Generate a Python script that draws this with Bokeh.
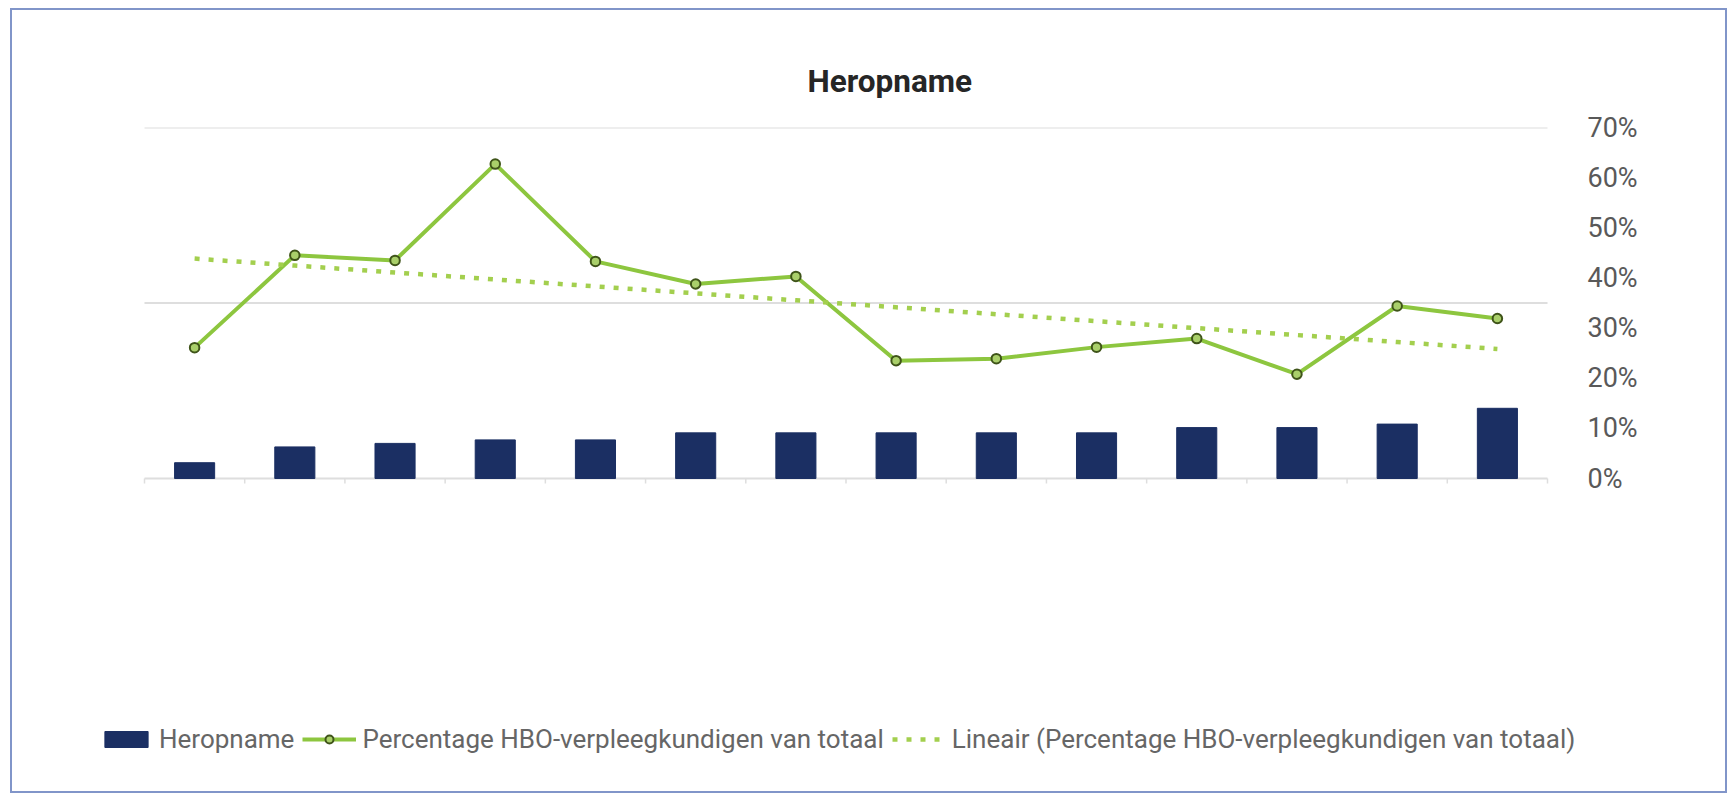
import numpy as np
from bokeh.plotting import figure
from bokeh.models import Range1d, FixedTicker, Legend, LegendItem
from bokeh.embed import file_html
from bokeh.resources import INLINE

# ---- data ----
periode = list(range(1, 15))
heropname = [0.9, 1.8, 2.0, 2.2, 2.2, 2.6, 2.6, 2.6, 2.6, 2.6, 2.9, 2.9, 3.1, 4.0]
pct_hbo = [0.261, 0.445, 0.435, 0.627, 0.433, 0.388, 0.403, 0.235, 0.239, 0.262,
           0.279, 0.208, 0.344, 0.319]
tick_values = [0.0, 0.1, 0.2, 0.3, 0.4, 0.5, 0.6, 0.7]
tick_labels = ["0%", "10%", "20%", "30%", "40%", "50%", "60%", "70%"]
grid_values = [0.0, 0.35, 0.7]
bar_axis_max = 20.0
title_text = "Heropname"
series_names = ["Heropname", "Percentage HBO-verpleegkundigen van totaal",
                "Lineair (Percentage HBO-verpleegkundigen van totaal)"]

# linear trendline (least squares, like Excel's "Lineair")
coef = np.polyfit(periode, pct_hbo, 1)
trend = list(np.polyval(coef, periode))

FONT = "Roboto"

# ---- layout (pixels) ----
CW, CH = 1717, 785                   # element size
FL, FR, FT, FB = 84, 1571, 117, 775  # frame edges inside the canvas
PL, PR, PB = 132, 1535, 468          # plotting area: category edges and baseline
n = len(periode)
sx = (PR - PL) / n                   # px per category
x_lo = 0.5 - (PL - FL) / sx
x_hi = n + 0.5 + (FR - PR) / sx
sy = (PB - FT) / max(tick_values)    # px per unit (percent axis)
y_lo = -(FB - PB) / sy
b_lo = -(FB - PB) / (PB - FT) * bar_axis_max

p = figure(width=CW, height=CH, output_backend="svg", toolbar_location=None,
           x_range=Range1d(x_lo, x_hi), y_range=Range1d(y_lo, max(tick_values)),
           y_axis_location="right", x_axis_location=None,
           min_border_left=FL, min_border_right=CW - FR,
           min_border_top=FT, min_border_bottom=CH - FB,
           background_fill_color="white", border_fill_color="white")
p.styles = {"border": "2px solid #8195c9", "margin": "8px 0 0 10px"}
p.outline_line_color = None
p.xgrid.visible = False
p.ygrid.visible = False

p.title.text = title_text
p.title.align = "left"
p.title.offset = 711
p.title.text_font = FONT
p.title.text_font_size = "31.5px"
p.title.text_font_style = "bold"
p.title.text_color = "#262626"
p.title.standoff = 55

# bars on their own (hidden) scale
p.extra_y_ranges = {"bars": Range1d(b_lo, bar_axis_max)}

# horizontal grid lines over the plotting area only
p.segment(x0=[0.5] * len(grid_values), x1=[n + 0.5] * len(grid_values),
          y0=grid_values, y1=grid_values, line_color="#dedede", line_width=2)
# small tick marks below the baseline between categories
edges = [i + 0.5 for i in range(0, n + 1)]
p.segment(x0=edges, x1=edges, y0=[0.0] * len(edges), y1=[-5 / sy] * len(edges),
          line_color="#dedede", line_width=1.5)

# right axis
yax = p.yaxis[0]
yax.ticker = FixedTicker(ticks=tick_values)
yax.major_label_overrides = {v: l for v, l in zip(tick_values, tick_labels)}
yax.axis_line_color = None
yax.major_tick_line_color = None
yax.minor_tick_line_color = None
yax.major_tick_out = 0
yax.major_label_standoff = 4
yax.major_label_text_font = FONT
yax.major_label_text_font_size = "27px"
yax.major_label_text_color = "#595959"

bars = p.vbar(x=periode, top=heropname, width=0.4, y_range_name="bars",
              fill_color="#1b2f63", line_color="#1b2f63")
line = p.line(periode, pct_hbo, line_color="#8dc63f", line_width=4)
pts = p.scatter(periode, pct_hbo, size=9.5, marker="circle",
                fill_color="#a9cf6a", line_color="#3f5419", line_width=2)
tr = p.line(periode, trend, line_color="#a3cf4e", line_width=4.5, line_dash="5 9")

legend = Legend(items=[
    LegendItem(label=series_names[0], renderers=[bars]),
    LegendItem(label=series_names[1], renderers=[line, pts]),
    LegendItem(label=series_names[2], renderers=[tr]),
], orientation="horizontal", location=(3, 31))
legend.glyph_width = 54
legend.glyph_height = 20
legend.label_standoff = 6
legend.spacing = 8
legend.padding = 2
legend.margin = 0
legend.border_line_color = None
legend.background_fill_alpha = 0
legend.label_text_font = FONT
legend.label_text_font_size = "26px"
legend.label_text_color = "#666666"
p.add_layout(legend, "center")

open("out.html", "w").write(file_html(p, INLINE))
